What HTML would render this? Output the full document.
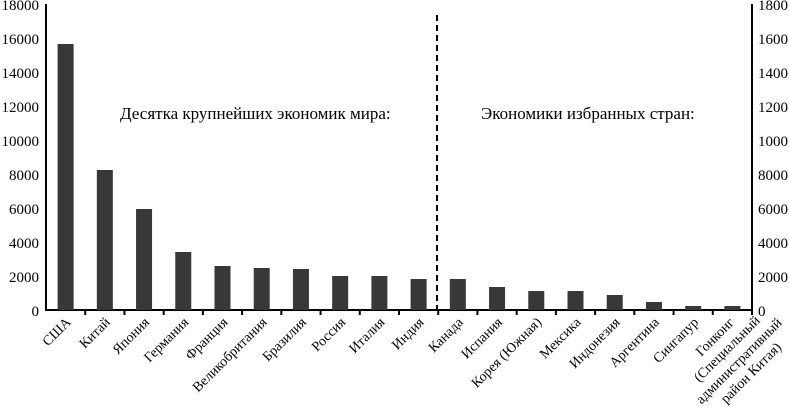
<!DOCTYPE html>
<html><head><meta charset="utf-8"><style>
body{margin:0;background:#fff}
svg text{font-family:"Liberation Serif",serif;fill:#000}
</style></head><body>
<svg width="789" height="414" xmlns="http://www.w3.org/2000/svg">
<g font-size="15" text-anchor="end">
<text x="39" y="10">18000</text><text x="39" y="44">16000</text><text x="39" y="78">14000</text>
<text x="39" y="112">12000</text><text x="39" y="146">10000</text><text x="39" y="180">8000</text>
<text x="39" y="214">6000</text><text x="39" y="248">4000</text><text x="39" y="282">2000</text><text x="39" y="316">0</text>
</g>
<g font-size="15" text-anchor="start">
<text x="758" y="10">1800</text><text x="758" y="44">1600</text><text x="758" y="78">1400</text>
<text x="758" y="112">1200</text><text x="758" y="146">1000</text><text x="758" y="180">8000</text>
<text x="758" y="214">6000</text><text x="758" y="248">4000</text><text x="758" y="282">2000</text><text x="758" y="316">0</text>
</g>
<g stroke="#000" stroke-width="2">
<line x1="46" y1="4" x2="46" y2="311"/><line x1="752" y1="4" x2="752" y2="311"/>
<line x1="45" y1="310" x2="753" y2="310"/>
</g>
<g stroke="#000" stroke-width="2" id="ticks"></g>
<line x1="437" y1="15" x2="437" y2="310" stroke="#000" stroke-width="2" stroke-dasharray="6,4"/>
<g fill="#383838" id="bars"></g>
<text x="120" y="119" font-size="17">Десятка крупнейших экономик мира:</text>
<text x="481" y="119" font-size="17">Экономики избранных стран:</text>
<g id="labels" font-size="14" text-anchor="end"></g>
</svg>
<script>
var tops=[44,170,209,252,266,268,269,276,276,279,279,287,291,291,295,302,306,306];
var names=["США","Китай","Япония","Германия","Франция","Великобритания","Бразилия","Россия","Италия","Индия","Канада","Испания","Корея (Южная)","Мексика","Индонезия","Аргентина","Сингапур"];
var ns="http://www.w3.org/2000/svg",w=706/18,b=document.getElementById('bars'),t=document.getElementById('ticks'),l=document.getElementById('labels');
for(var i=0;i<18;i++){
var c=46+w*(i+.5);
var r=document.createElementNS(ns,'rect');r.setAttribute('x',c-8);r.setAttribute('y',tops[i]);r.setAttribute('width',16);r.setAttribute('height',310-tops[i]);b.appendChild(r);
var k=document.createElementNS(ns,'line');var x=46+w*(i+1);k.setAttribute('x1',x);k.setAttribute('x2',x);k.setAttribute('y1',310);k.setAttribute('y2',315);t.appendChild(k);
if(i<17){var s=document.createElementNS(ns,'text');s.setAttribute('transform','translate('+(c+6)+',323) rotate(-45)');s.textContent=names[i];l.appendChild(s);}
}
var g=document.createElementNS(ns,'g');
g.setAttribute('transform','translate(718,340) rotate(-45)');
var lines=["Гонконг","(Специальный","административный","район Китая)"];
for(var j=0;j<4;j++){var s=document.createElementNS(ns,'text');s.setAttribute('x',0);s.setAttribute('y',j*17);s.setAttribute('text-anchor','middle');s.textContent=lines[j];g.appendChild(s);}
l.appendChild(g);
</script>
</body></html>
